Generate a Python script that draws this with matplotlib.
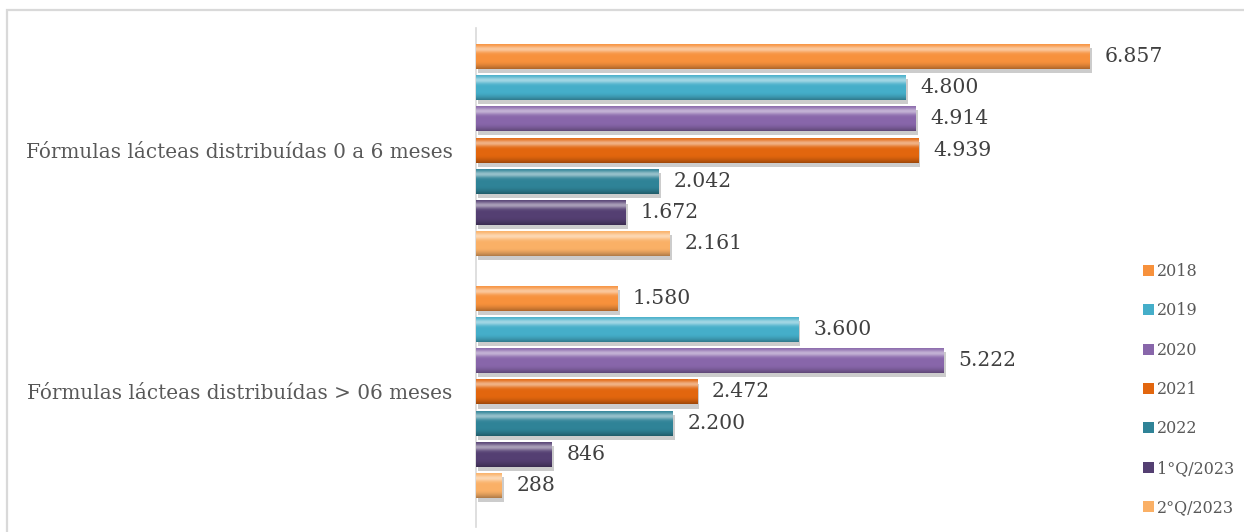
import numpy as np
import matplotlib
matplotlib.use("Agg")
import matplotlib.pyplot as plt
import matplotlib.patheffects as pe
from matplotlib.colors import to_rgb
from matplotlib.patches import Patch, Rectangle

categorias = ["Fórmulas lácteas distribuídas 0 a 6 meses",
              "Fórmulas lácteas distribuídas > 06 meses"]
periodos = ["2018", "2019", "2020", "2021", "2022", "1°Q/2023", "2°Q/2023"]
valores_0a6 = [6857, 4800, 4914, 4939, 2042, 1672, 2161]
valores_06 = [1580, 3600, 5222, 2472, 2200, 846, 288]
cores = ["#F7913C", "#45AEC9", "#8866AA", "#E2660E", "#2F8397", "#543F72", "#FAB066"]

plt.rcParams['font.family'] = ['DejaVu Serif']


def fmt(v):
    return f"{v:,}".replace(",", ".")


def textura(cor, n=64):
    # faixa vertical com brilho em cima e sombra embaixo
    base = np.array(to_rgb(cor))
    t = np.linspace(0, 1, n)[:, None]
    claro = 0.5 * np.exp(-((t - 0.2) / 0.13) ** 2)
    escuro = 0.3 * np.clip((t - 0.7) / 0.3, 0, 1) ** 1.5
    rgb = base * (1 - claro) + claro
    rgb = rgb * (1 - escuro)
    return rgb[:, None, :]


fig = plt.figure(figsize=(12.44, 5.32), dpi=100)
fig.patches.append(Rectangle((7 / 1244, -0.05), 1.2, (532 - 10) / 532 + 0.05,
                             transform=fig.transFigure, fill=False,
                             edgecolor="#D9D9D9", linewidth=1.6))
ax = fig.add_axes([476 / 1244, 5 / 532, (1176 - 476) / 1244, (504 - 5) / 532])

passo = 1.0
centros = [0.0, 7.75]
altura = 0.8
series = list(zip(*[valores_0a6, valores_06]))

for i, (rotulo, vals, cor) in enumerate(zip(periodos, series, cores)):
    ys = [c + (i - 3) * passo for c in centros]
    barras = ax.barh(ys, vals, height=altura, color=cor, edgecolor="none",
                     label=rotulo, zorder=2)
    for b, v, y in zip(barras, vals, ys):
        b.set_path_effects([pe.SimplePatchShadow(offset=(1.5, -3), alpha=0.2,
                                                 shadow_rgbFace="#000000"),
                            pe.Normal()])
        im = ax.imshow(textura(cor), extent=(0, v, y + altura / 2, y - altura / 2),
                       aspect="auto", zorder=3, interpolation="bilinear")
        im.set_clip_path(b)
        ax.text(v + 165, y, fmt(v), va="center", ha="left", fontsize=14.7,
                color="#404040", zorder=4)

ax.set_xlim(0, 7820)
ax.set_ylim(12.08, -3.91)
ax.set_yticks(centros)
ax.set_yticklabels(categorias, fontsize=14.4, color="#595959")
ax.tick_params(axis="y", length=0, pad=17)
ax.set_xticks([])
for lado in ["top", "right", "bottom"]:
    ax.spines[lado].set_visible(False)
ax.spines["left"].set_color("#D9D9D9")
ax.spines["left"].set_linewidth(1.2)

alcas = [Patch(facecolor=c, edgecolor="none") for c in cores]
fig.legend(alcas, periodos, loc="upper left", bbox_to_anchor=(1143 / 1244, 1 - 263 / 532),
           frameon=False, fontsize=11.5, labelspacing=1.4, handlelength=0.69,
           handleheight=0.69, handletextpad=0.2, labelcolor="#595959",
           borderaxespad=0, borderpad=0)

fig.savefig("out.png", dpi=100)
